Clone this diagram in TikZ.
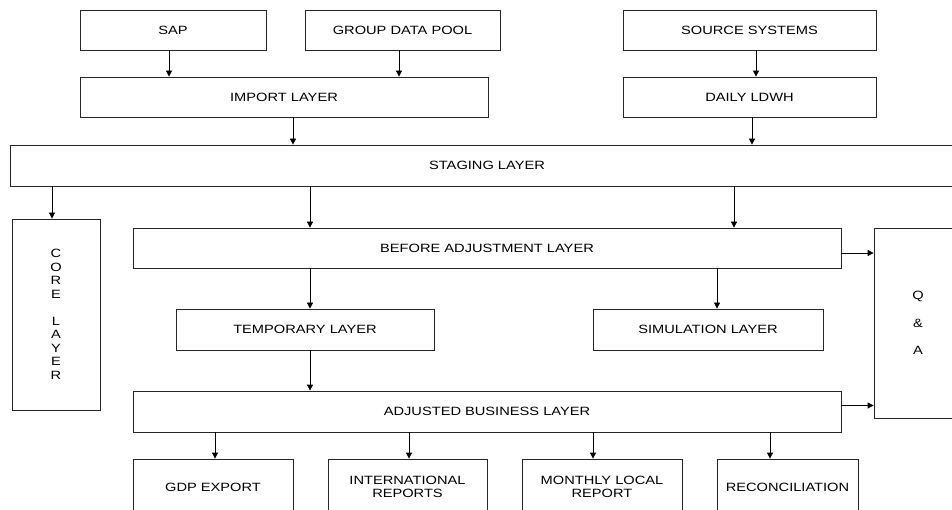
\documentclass[tikz,border=0pt]{standalone}
\usepackage{fontspec}
\setmainfont{Liberation Sans}[FakeStretch=1.22]
\usetikzlibrary{arrows.meta}

\tikzset{layer/.style={draw=black!85, minimum height=40, inner sep=0pt, align=center, font=\fontsize{12}{13.5}\selectfont}}
\tikzset{column/.style={layer, minimum width=88, minimum height=191}}
\tikzset{output/.style={layer, minimum height=56}}

\begin{document}
\begin{tikzpicture}[x=1pt, y=-1pt, line width=0.8pt, >={Triangle[width=6pt,length=6pt]}]
	\useasboundingbox (0,0) rectangle (952,510);

	\node[layer, minimum width=186] (sap) at (173,30) {SAP};
	\node[layer, minimum width=195] (group-pool) at (402.5,30) {GROUP DATA POOL};
	\node[layer, minimum width=253] (source) at (749.5,30) {SOURCE SYSTEMS};

	\node[layer, minimum width=408] (import) at (284,97) {IMPORT LAYER};
	\node[layer, minimum width=253] (ldwh) at (749.5,97) {DAILY LDWH};

	\node[layer, minimum width=954, minimum height=41] (staging) at (487,165.5) {STAGING LAYER};

	\node[column] (core) at (56,314.5) {C\\O\\R\\E\\[13.5pt]L\\A\\Y\\E\\R};
	\node[column, minimum height=190] (qa) at (918,323) {Q\\[14pt]\&\\[14pt]A};

	\node[layer, minimum width=708] (before) at (487,248) {BEFORE ADJUSTMENT LAYER};
	\node[layer, minimum width=258, minimum height=41] (temporary) at (305,329.5) {TEMPORARY LAYER};
	\node[layer, minimum width=230, minimum height=41] (simulation) at (708,329.5) {SIMULATION LAYER};
	\node[layer, minimum width=708, minimum height=41] (adjusted) at (487,411.5) {ADJUSTED BUSINESS LAYER};

	\node[output, minimum width=160] (gdp-export) at (213,487) {GDP EXPORT};
	\node[output, minimum width=159] (international) at (407.5,487) {INTERNATIONAL\\REPORTS};
	\node[output, minimum width=160] (monthly) at (602,487) {MONTHLY LOCAL\\REPORT};
	\node[output, minimum width=141] (reconciliation) at (787.5,487) {RECONCILIATION};

	\draw[->] ([xshift=-4]sap.south) -- ([xshift=-4]sap.south |- import.north);
	\draw[->] ([xshift=-3.5]group-pool.south) -- ([xshift=-3.5]group-pool.south |- import.north);
	\draw[->] ([xshift=6.5]source.south) -- ([xshift=6.5]ldwh.north);
	\draw[->] ([xshift=9]import.south) -- ([xshift=9]import.south |- staging.north);
	\draw[->] ([xshift=2.5]ldwh.south) -- ([xshift=2.5]ldwh.south |- staging.north);

	\draw[->] ([xshift=-4]core.north |- staging.south) -- ([xshift=-4]core.north);
	\draw[->] ([xshift=5]temporary.north |- staging.south) -- ([xshift=5]temporary.north |- before.north);
	\draw[->] ([xshift=247]before.north |- staging.south) -- ([xshift=247]before.north);

	\draw[->] ([xshift=5]temporary.north |- before.south) -- ([xshift=5]temporary.north);
	\draw[->] ([xshift=9]simulation.north |- before.south) -- ([xshift=9]simulation.north);
	\draw[->] ([xshift=5]temporary.south) -- ([xshift=5]temporary.south |- adjusted.north);

	\draw[->] ([yshift=-5]before.east) -- ([yshift=-5]before.east -| qa.west);
	\draw[->] ([yshift=6]adjusted.east) -- ([yshift=6]adjusted.east -| qa.west);

	\draw[->] ([xshift=2]gdp-export.north |- adjusted.south) -- ([xshift=2]gdp-export.north);
	\draw[->] ([xshift=1.5]international.north |- adjusted.south) -- ([xshift=1.5]international.north);
	\draw[->] ([xshift=-9]monthly.north |- adjusted.south) -- ([xshift=-9]monthly.north);
	\draw[->] ([xshift=-17.5]reconciliation.north |- adjusted.south) -- ([xshift=-17.5]reconciliation.north);
\end{tikzpicture}
\end{document}
